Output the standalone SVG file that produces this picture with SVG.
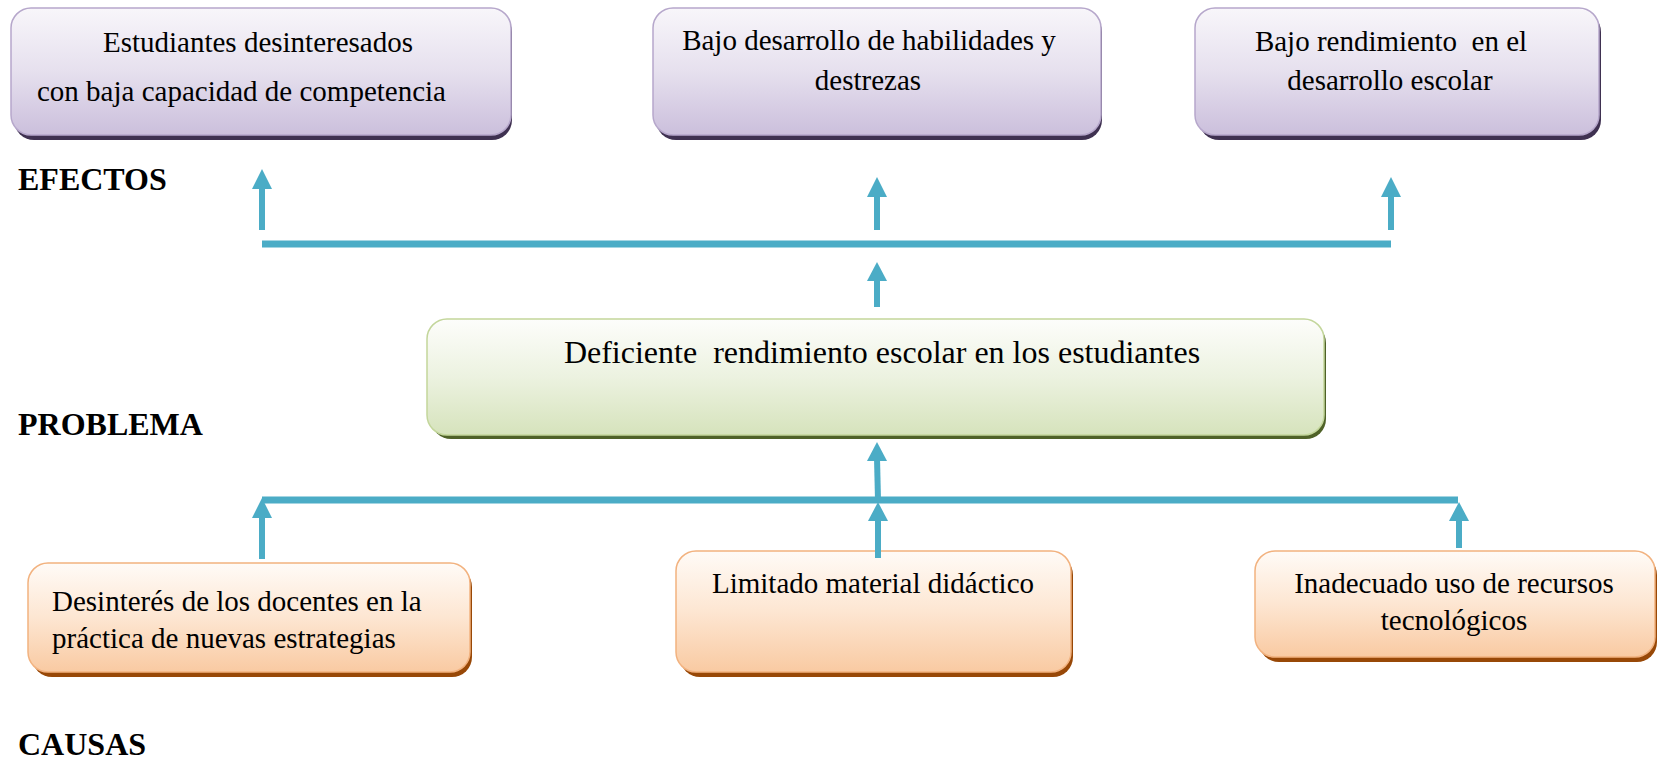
<svg xmlns="http://www.w3.org/2000/svg" width="1657" height="769" viewBox="0 0 1657 769">
<style>
  .t { font-family: "Liberation Serif", "Times New Roman", serif; font-size: 29px; fill: #000; white-space: pre; }
  .c { text-anchor: middle; }
  .lbl { font-family: "Liberation Serif", "Times New Roman", serif; font-size: 32px; font-weight: bold; fill: #000; }
  .pbox { fill: url(#gP); stroke: #b6a7cb; stroke-width: 1.5; }
  .psh { fill: #3f3151; }
  .gbox { fill: url(#gG); stroke: #c3d69b; stroke-width: 1.5; }
  .gsh { fill: #4f6228; }
  .obox { fill: url(#gO); stroke: #f2b27f; stroke-width: 1.5; }
  .osh { fill: #984807; }
  .ln { stroke: #4bacc6; stroke-width: 7; fill: none; }
  .sh { stroke: #4bacc6; stroke-width: 6; fill: none; }
  .hd { fill: #4bacc6; }
</style>
<defs>
  <linearGradient id="gP" x1="0" y1="0" x2="0" y2="1">
    <stop offset="0" stop-color="#f8f6fa"/>
    <stop offset="0.5" stop-color="#e6e0ee"/>
    <stop offset="1" stop-color="#cbbfdc"/>
  </linearGradient>
  <linearGradient id="gG" x1="0" y1="0" x2="0" y2="1">
    <stop offset="0" stop-color="#fdfdfb"/>
    <stop offset="0.5" stop-color="#ecf2e0"/>
    <stop offset="1" stop-color="#d6e3bc"/>
  </linearGradient>
  <linearGradient id="gO" x1="0" y1="0" x2="0" y2="1">
    <stop offset="0" stop-color="#fffbf7"/>
    <stop offset="0.5" stop-color="#fde6d2"/>
    <stop offset="1" stop-color="#f9caa2"/>
  </linearGradient>
</defs>
<rect width="1657" height="769" fill="#ffffff"/>

<g id="efecto1">
  <rect class="psh" x="14" y="12" width="498" height="128" rx="20"/>
  <rect class="pbox" x="11" y="8" width="500" height="127" rx="20"/>
  <text class="t c" x="258" y="52">Estudiantes desinteresados</text>
  <text class="t" x="37" y="101">con baja capacidad de competencia</text>
</g>
<g id="efecto2">
  <rect class="psh" x="656" y="12" width="446" height="128" rx="20"/>
  <rect class="pbox" x="653" y="8" width="448" height="127" rx="20"/>
  <text class="t c" x="869" y="50">Bajo desarrollo de habilidades y</text>
  <text class="t c" x="868" y="90">destrezas</text>
</g>
<g id="efecto3">
  <rect class="psh" x="1199" y="12" width="402" height="128" rx="20"/>
  <rect class="pbox" x="1195" y="8" width="404" height="127" rx="20"/>
  <text class="t c" x="1391" y="51">Bajo rendimiento  en el</text>
  <text class="t c" x="1390" y="90">desarrollo escolar</text>
</g>

<g id="problema">
  <rect class="gsh" x="431" y="323" width="895" height="116" rx="20"/>
  <rect class="gbox" x="427" y="319" width="897" height="116" rx="20"/>
  <text class="t c" x="882" y="363" style="font-size:32px">Deficiente  rendimiento escolar en los estudiantes</text>
</g>

<g id="causa1">
  <rect class="osh" x="32" y="567" width="440" height="110" rx="20"/>
  <rect class="obox" x="28" y="563" width="442" height="109" rx="20"/>
  <text class="t" x="52" y="611">Desinterés de los docentes en la</text>
  <text class="t" x="52" y="648">práctica de nuevas estrategias</text>
</g>
<g id="causa2">
  <rect class="osh" x="680" y="555" width="393" height="122" rx="20"/>
  <rect class="obox" x="676" y="551" width="395" height="121" rx="20"/>
  <text class="t c" x="873" y="593">Limitado material didáctico</text>
</g>
<g id="causa3">
  <rect class="osh" x="1259" y="555" width="398" height="107" rx="20"/>
  <rect class="obox" x="1255" y="551" width="400" height="106" rx="20"/>
  <text class="t c" x="1454" y="593">Inadecuado uso de recursos</text>
  <text class="t c" x="1454" y="630">tecnológicos</text>
</g>

<g id="etiquetas">
  <text class="lbl" x="18" y="190">EFECTOS</text>
  <text class="lbl" x="18" y="435">PROBLEMA</text>
  <text class="lbl" x="18" y="755">CAUSAS</text>
</g>

<g id="conectores">
  <line class="ln" x1="262" y1="244" x2="1391" y2="244"/>
  <line class="sh" x1="262" y1="230" x2="262" y2="186"/>
  <polygon class="hd" points="262,169 272,189 252,189"/>
  <line class="sh" x1="877" y1="230" x2="877" y2="194"/>
  <polygon class="hd" points="877,177 887,197 867,197"/>
  <line class="sh" x1="1391" y1="230" x2="1391" y2="194"/>
  <polygon class="hd" points="1391,177 1401,197 1381,197"/>
  <line class="sh" x1="877" y1="307" x2="877" y2="278"/>
  <polygon class="hd" points="877,262 887,281 867,281"/>
  <line class="ln" x1="262" y1="500" x2="1458" y2="500"/>
  <line class="sh" x1="878" y1="500" x2="877" y2="458"/>
  <polygon class="hd" points="877,442 887,461 867,461"/>
  <line class="sh" x1="262" y1="559" x2="262" y2="514"/>
  <polygon class="hd" points="262,498 272,518 252,518"/>
  <line class="sh" x1="878" y1="558" x2="878" y2="518"/>
  <polygon class="hd" points="878,502 888,521 868,521"/>
  <line class="sh" x1="1459" y1="548" x2="1459" y2="518"/>
  <polygon class="hd" points="1459,502 1469,521 1449,521"/>
</g>
</svg>
